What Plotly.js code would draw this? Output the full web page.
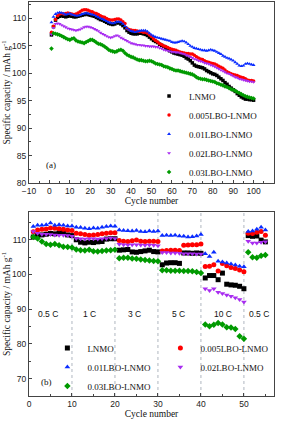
<!DOCTYPE html>
<html><head><meta charset="utf-8">
<script src="https://cdn.plot.ly/plotly-3.0.1.min.js"></script>
<style>html,body{margin:0;padding:0;background:#fff}#c{width:281px;height:421px}</style>
</head><body><div id="c"></div>
<script>
// ---------- (a) cycling at constant rate, cycles 1..100 ----------
const cyclesA = Array.from({length: 100}, (_, i) => i + 1);
const seriesNames = ['LNMO', '0.005LBO-LNMO', '0.01LBO-LNMO', '0.02LBO-LNMO', '0.03LBO-LNMO'];
const lnmoA = [107.0,108.5,109.7,110.2,110.4,110.5,110.4,110.3,110.4,110.5,
110.4,110.3,110.3,110.4,110.5,110.6,110.7,110.8,110.7,110.6,
110.5,110.4,110.2,110.0,109.8,109.7,109.5,109.3,109.1,109.0,
108.9,109.0,109.2,109.2,109.0,108.7,108.3,107.8,107.5,107.3,
107.2,107.2,107.2,107.3,107.3,107.2,107.1,106.9,106.6,106.3,
106.0,105.8,105.6,105.3,105.1,104.9,104.6,104.4,104.1,103.9,
103.7,103.6,103.5,103.4,103.3,103.1,102.8,102.6,102.3,101.9,
101.5,101.3,101.2,101.1,101.0,100.8,100.5,100.3,100.1,99.9,
99.8,99.6,99.3,99.0,98.7,98.3,98.0,97.6,97.3,97.0,
96.7,96.3,96.0,95.7,95.5,95.3,95.3,95.2,95.2,95.1];
const lbo005A = [107.5,108.6,109.8,110.5,110.8,110.9,110.8,110.9,111.0,110.9,
110.8,110.7,110.8,111.0,111.2,111.5,111.6,111.6,111.5,111.3,
111.2,111.0,110.9,110.7,110.5,110.3,110.2,110.0,109.8,109.7,
109.7,109.8,109.9,109.9,109.7,109.4,109.1,108.2,108.0,107.9,
107.8,107.8,107.7,107.6,107.6,107.5,107.5,107.3,107.0,106.7,
106.3,106.0,105.7,105.4,105.2,105.0,104.9,104.7,104.5,104.4,
104.3,104.2,104.0,103.9,103.8,103.7,103.6,103.6,103.5,103.5,
103.3,103.0,102.8,102.6,102.5,102.3,102.1,102.0,101.9,101.8,
101.7,101.5,101.3,101.1,100.9,100.6,100.3,100.1,99.9,99.8,
99.7,99.6,99.4,99.3,99.2,99.0,98.8,98.7,98.7,98.6];
const lbo01A = [109.3,110.3,110.8,111.0,111.1,111.0,110.9,110.7,110.8,110.9,
110.7,110.6,110.5,110.5,110.6,110.8,110.9,111.0,110.9,110.8,
110.7,110.6,110.4,110.2,110.0,109.9,109.7,109.5,109.3,109.2,
109.1,109.2,109.4,109.4,109.3,109.0,108.6,108.2,107.9,107.7,
107.6,107.5,107.6,107.7,107.8,107.8,107.8,107.6,107.3,107.0,
106.8,106.6,106.5,106.4,106.3,106.2,106.1,106.0,105.9,105.7,
105.6,105.6,105.7,105.8,105.9,105.8,105.6,105.3,105.0,104.8,
104.6,104.5,104.4,104.3,104.2,104.2,104.1,104.2,104.3,104.2,
104.1,103.9,103.7,103.5,103.2,103.0,102.8,102.7,102.5,102.3,
102.0,101.7,101.4,101.3,101.4,101.7,101.8,101.7,101.6,101.5];
const lbo02A = [107.1,108.3,109.0,109.1,109.0,108.8,108.6,108.4,108.2,108.1,
108.0,107.9,107.8,107.9,108.0,108.2,108.4,108.5,108.5,108.4,
108.3,108.1,107.9,107.7,107.4,107.2,107.0,106.8,106.6,106.5,
106.6,106.8,106.9,106.8,106.5,106.3,106.1,105.9,105.7,105.5,
105.4,105.3,105.2,105.2,105.1,105.1,105.0,105.0,104.9,104.9,
104.9,104.8,104.8,104.6,104.5,104.3,104.2,104.1,104.0,103.9,
103.9,103.8,103.8,103.7,103.6,103.5,103.3,103.2,103.0,102.8,
102.6,102.5,102.3,102.2,102.1,101.9,101.8,101.7,101.5,101.4,
101.2,101.0,100.8,100.6,100.4,100.2,100.0,99.9,99.7,99.5,
99.3,99.2,99.0,98.9,98.8,98.7,98.6,98.5,98.5,98.4];
const lbo03A = [104.5,107.3,107.2,107.1,107.0,106.8,106.6,106.4,106.2,106.1,
106.3,106.4,106.0,105.8,105.7,105.6,105.5,105.7,105.9,106.1,
106.1,105.9,105.6,105.4,105.3,105.1,104.9,104.6,104.3,104.1,
104.0,103.9,104.0,104.2,104.3,104.1,103.7,103.4,103.2,103.0,
102.9,102.7,102.5,102.4,102.4,102.3,102.2,102.2,102.3,102.2,
102.0,101.8,101.7,101.6,101.5,101.3,101.2,101.1,100.9,100.8,
100.6,100.5,100.5,100.4,100.3,100.2,100.1,100.0,99.9,99.8,
99.6,99.3,99.1,99.0,98.9,98.9,98.8,98.7,98.6,98.5,
98.4,98.2,98.1,97.9,97.8,97.6,97.5,97.3,97.1,97.0,
96.8,96.6,96.4,96.2,96.0,95.8,95.7,95.6,95.5,95.4];

// ---------- (b) rate capability, cycles 1..55 ----------
const cyclesB = Array.from({length: 55}, (_, i) => i + 1);
const lnmoB = [110.8,111.2,111.4,111.6,111.8,111.7,112.0,112.1,111.4,111.2,
110.0,109.3,109.1,109.3,109.2,109.4,109.5,110.2,110.3,110.3,
107.0,107.1,107.2,106.5,106.4,106.6,106.8,107.0,106.6,106.5,
102.8,103.3,103.4,103.4,103.2,106.2,106.2,106.1,106.2,106.1,
99.0,99.7,99.7,98.5,100.4,97.2,97.0,96.9,96.6,95.9,
111.2,111.0,111.1,109.9,109.4];
const lbo005B = [112.3,112.8,113.0,113.1,113.4,113.3,113.2,113.0,112.8,112.7,
111.9,111.7,111.5,111.3,111.4,111.5,111.7,111.9,112.0,112.0,
109.8,109.6,109.5,109.7,109.9,109.6,109.5,109.6,109.6,109.5,
106.8,106.9,107.0,107.0,106.9,108.4,108.5,108.6,108.6,108.8,
102.3,102.4,102.8,101.0,103.2,102.5,102.0,101.7,101.3,100.8,
111.9,111.8,112.2,112.4,111.3];
const lbo01B = [113.8,114.2,114.2,114.3,114.8,114.2,114.3,114.2,114.0,114.0,
113.6,113.5,113.3,113.2,113.4,113.3,113.6,113.8,114.0,113.9,
112.8,112.7,112.6,112.5,112.7,112.4,112.3,112.5,112.4,112.5,
111.2,111.3,111.2,111.3,111.1,111.0,110.8,110.9,111.1,111.5,
106.0,105.2,106.4,103.8,103.6,103.3,103.0,102.7,102.4,102.2,
112.4,112.5,113.0,113.6,112.8];
const lbo02B = [112.4,111.9,111.6,111.6,111.5,111.4,111.3,111.3,111.2,111.0,
110.4,110.3,110.2,110.3,110.3,110.2,110.3,110.4,110.5,110.4,
108.7,108.6,108.5,108.6,108.6,108.5,108.4,108.5,108.4,108.3,
106.3,106.3,106.2,106.2,106.1,106.0,106.0,106.0,105.9,105.9,
95.9,95.4,95.9,94.9,94.5,94.1,93.7,93.3,92.8,92.1,
109.6,109.1,109.1,109.3,109.4];
const lbo03B = [110.8,110.4,109.5,108.8,108.6,108.8,108.4,108.0,107.9,107.8,
107.2,107.0,106.9,107.1,106.7,106.6,106.8,106.9,107.0,107.1,
104.7,104.8,104.8,104.6,104.5,104.3,104.2,104.0,103.9,103.8,
101.2,101.2,101.1,101.1,101.1,101.0,101.0,100.9,100.7,100.4,
85.6,85.1,85.5,86.0,85.6,84.8,84.7,84.3,82.2,81.5,
106.4,105.0,104.8,105.4,105.6];

const rateLabels = ['0.5 C', '1 C', '3 C', '5 C', '10 C', '0.5 C'];
const rateLabelX = [4.4, 14, 24.5, 34.8, 45.2, 53.4];
const rateBounds = [10, 20, 30, 40, 50];

const colors = ['#000000', '#ff0000', '#0a2cff', '#a82cf0', '#009a00'];
const symbols = ['square', 'circle', 'triangle-up', 'triangle-down', 'diamond'];
const dataA = [lnmoA, lbo005A, lbo01A, lbo02A, lbo03A];
const dataB = [lnmoB, lbo005B, lbo01B, lbo02B, lbo03B];

const traces = [];
dataA.forEach((ys, i) => traces.push({
  x: cyclesA, y: ys, name: seriesNames[i], type: 'scatter', mode: 'markers',
  xaxis: 'x', yaxis: 'y', legend: 'legend',
  marker: {symbol: symbols[i], size: 3.5, color: colors[i], line: {width: 0}}
}));
dataB.forEach((ys, i) => traces.push({
  x: cyclesB, y: ys, name: seriesNames[i], type: 'scatter', mode: 'markers',
  xaxis: 'x2', yaxis: 'y2', legend: 'legend2',
  marker: {symbol: symbols[i], size: 5, color: colors[i], line: {width: 0}}
}));

const serif = 'Liberation Serif, Times New Roman, serif';
const sans = 'Liberation Sans, Arial, sans-serif';
const axBase = {
  showline: true, mirror: true, linecolor: '#444', linewidth: 1,
  ticks: 'inside', ticklen: 3, tickwidth: 1, tickcolor: '#444',
  showgrid: false, zeroline: false,
  tickfont: {family: sans, size: 8.5, color: '#222'},
  automargin: false
};

const shapes = rateBounds.map(b => ({
  type: 'line', xref: 'x2', yref: 'y2 domain', x0: b, x1: b, y0: 0, y1: 1,
  line: {color: '#9aa4b0', width: 0.8, dash: 'dot'}, layer: 'below'
}));

const annotations = rateLabels.map((t, i) => ({
  text: t, x: rateLabelX[i], y: 88.6, xref: 'x2', yref: 'y2', showarrow: false,
  font: {family: sans, size: 8.5, color: '#111'}
}));
annotations.push({text: '(a)', x: 1, y: 83.3, xref: 'x', yref: 'y', showarrow: false,
  font: {family: serif, size: 9, color: '#111'}});
annotations.push({text: '(b)', x: 4, y: 69, xref: 'x2', yref: 'y2', showarrow: false,
  font: {family: serif, size: 9, color: '#111'}});

const layout = {
  width: 281, height: 421,
  margin: {l: 29, r: 7, t: 2, b: 25},
  paper_bgcolor: '#fff', plot_bgcolor: '#fff',
  showlegend: true,
  xaxis: Object.assign({}, axBase, {domain: [0, 1], anchor: 'y', range: [-10, 110],
    tickmode: 'linear', tick0: -10, dtick: 10,
    minor: {ticks: 'inside', ticklen: 2, dtick: 5, tickcolor: '#444'},
    title: {text: 'Cycle number', font: {family: serif, size: 9.5, color: '#111'}, standoff: 2}}),
  yaxis: Object.assign({}, axBase, {domain: [0.5406, 1], anchor: 'x', range: [80, 113],
    tickmode: 'linear', tick0: 80, dtick: 5,
    minor: {ticks: 'inside', ticklen: 2, dtick: 2.5, tickcolor: '#444'},
    title: {text: 'Specific capacity / mAh g<sup>-1</sup>', font: {family: serif, size: 9.5, color: '#111'}, standoff: 1}}),
  xaxis2: Object.assign({}, axBase, {domain: [0, 1], anchor: 'y2', range: [0, 57],
    tickmode: 'linear', tick0: 0, dtick: 10,
    minor: {ticks: 'inside', ticklen: 2, dtick: 5, tickcolor: '#444'},
    title: {text: 'Cycle number', font: {family: serif, size: 9.5, color: '#111'}, standoff: 2}}),
  yaxis2: Object.assign({}, axBase, {domain: [0, 0.467], anchor: 'x2', range: [65, 118],
    tickmode: 'linear', tick0: 70, dtick: 10,
    minor: {ticks: 'inside', ticklen: 2, dtick: 5, tickcolor: '#444'},
    title: {text: 'Specific capacity / mAh g<sup>-1</sup>', font: {family: serif, size: 9.5, color: '#111'}, standoff: 1}}),
  legend: {x: 0.49, y: 0.798, xanchor: 'left', yanchor: 'top', bgcolor: 'rgba(0,0,0,0)',
    font: {family: serif, size: 9, color: '#111'}, itemwidth: 30, tracegroupgap: 0},
  legend2: {x: 0.075, y: 0.1586, xanchor: 'left', yanchor: 'top', orientation: 'h',
    entrywidth: 68, bgcolor: 'rgba(0,0,0,0)',
    font: {family: serif, size: 9, color: '#111'}, itemwidth: 30},
  shapes: shapes,
  annotations: annotations
};

Plotly.newPlot('c', traces, layout, {displayModeBar: false, staticPlot: true});
</script>
</body></html>
